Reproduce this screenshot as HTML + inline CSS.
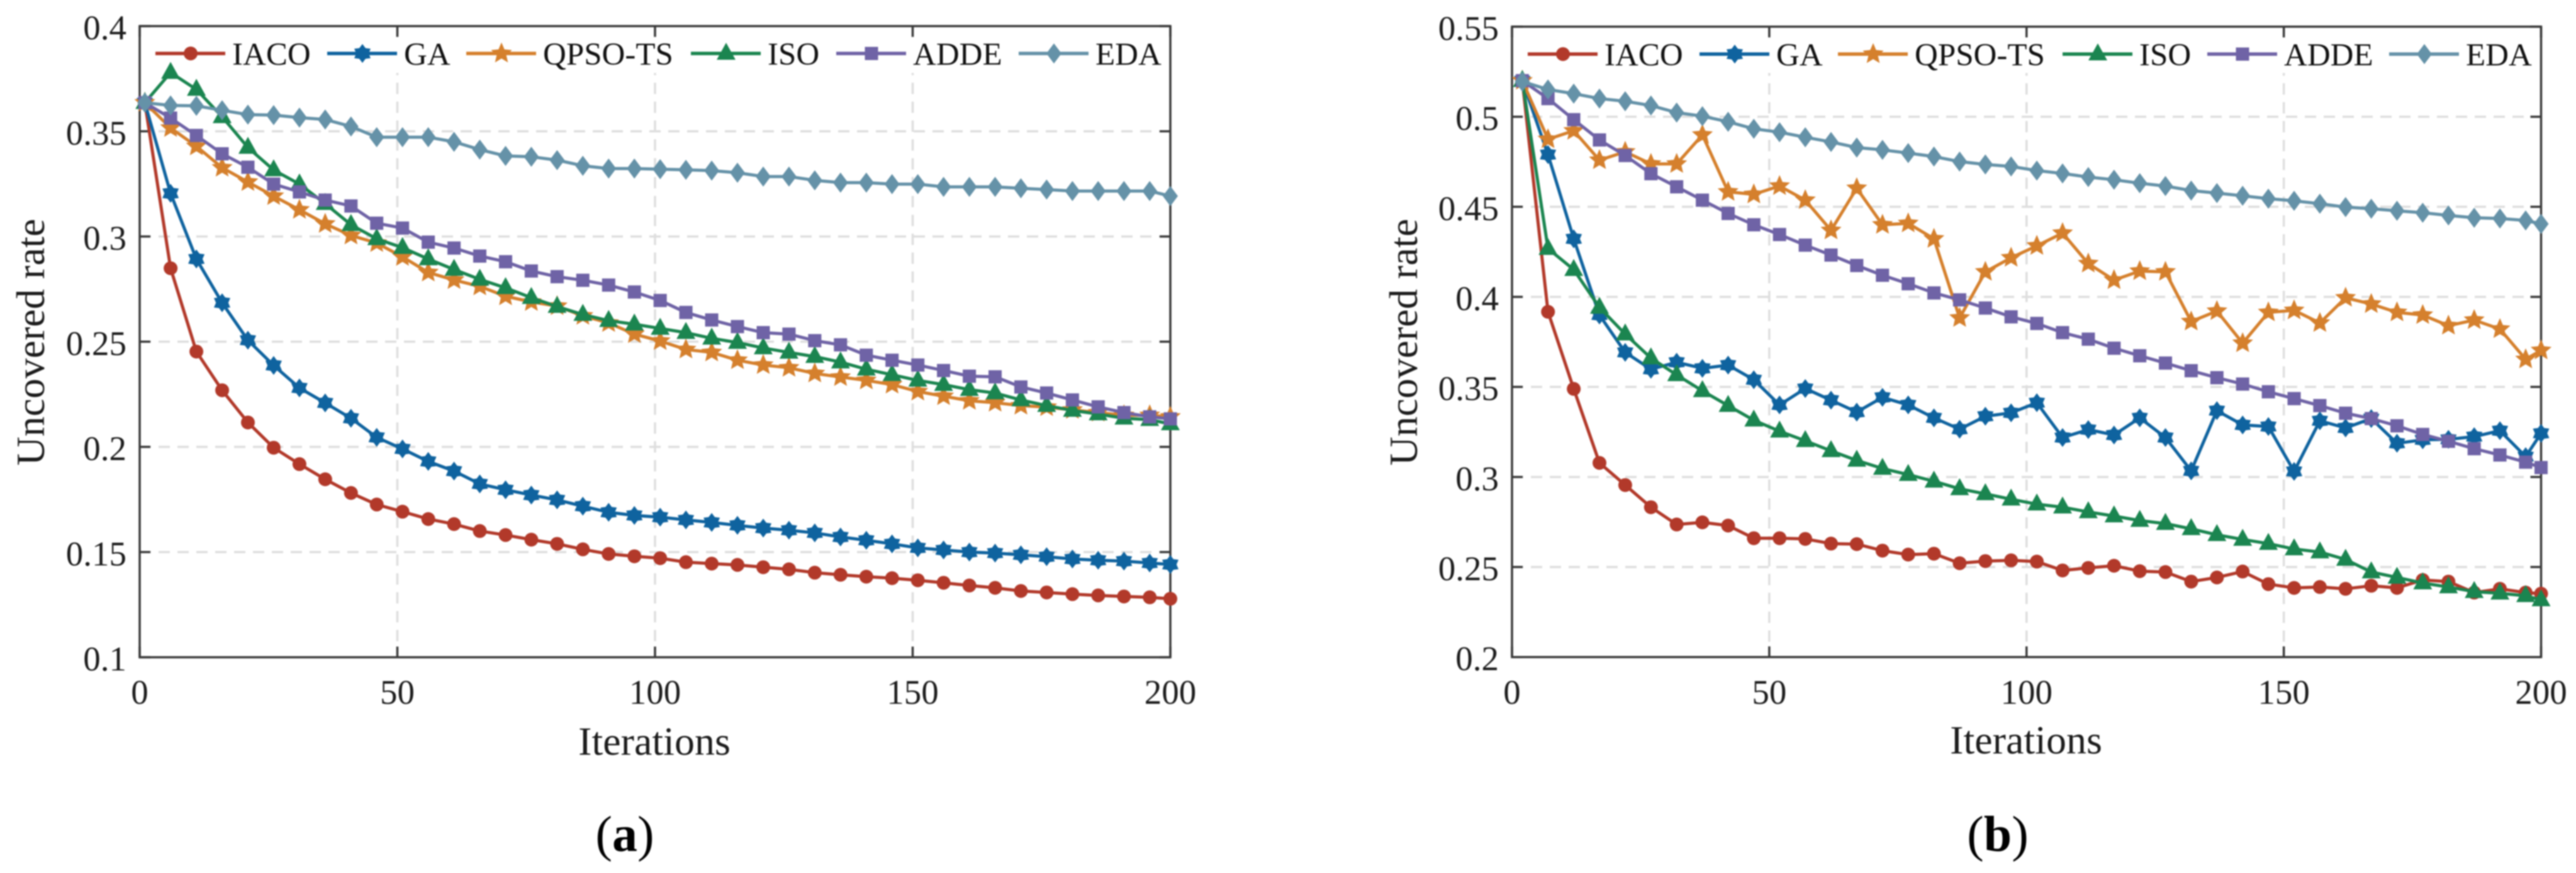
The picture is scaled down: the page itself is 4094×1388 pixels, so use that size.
<!DOCTYPE html>
<html lang="en">
<head>
<meta charset="utf-8">
<title>Uncovered rate vs iterations</title>
<style>
html,body{margin:0;padding:0;background:#fff;width:4094px;height:1388px;overflow:hidden}
svg{display:block;filter:blur(1px)}
text{font-family:"Liberation Serif",serif;fill:#1c1c1c}
.tick{font-size:55px}
.title{font-size:64px}
.leg{font-size:51px;fill:#111}
.cap{font-size:80px;fill:#000}
</style>
</head>
<body>
<svg id="figure" xmlns="http://www.w3.org/2000/svg" width="4094" height="1388" viewBox="0 0 4094 1388">
  <rect x="0" y="0" width="4094" height="1388" fill="#fff"/>

  <g id="panel-a">
    <g id="a-grid"></g>
    <rect x="236" y="60" width="1618" height="56" fill="#fff"/>
    <g id="a-frame"></g>
    <g id="a-series"></g>
    <g id="a-swatches"></g>
    <g>
      <text id="a-leg-0" class="leg" x="369" y="103">IACO</text>
      <text id="a-leg-1" class="leg" x="642" y="103">GA</text>
      <text id="a-leg-2" class="leg" x="863" y="103">QPSO-TS</text>
      <text id="a-leg-3" class="leg" x="1220" y="103">ISO</text>
      <text id="a-leg-4" class="leg" x="1451" y="103">ADDE</text>
      <text id="a-leg-5" class="leg" x="1741" y="103">EDA</text>
    </g>
    <text class="title" x="1040" y="1200" text-anchor="middle">Iterations</text>
    <text class="title" transform="translate(70,544) rotate(-90)" text-anchor="middle">Uncovered rate</text>
    <text class="cap" x="993" y="1353" text-anchor="middle">(<tspan font-weight="bold">a</tspan>)</text>
  </g>

  <g id="panel-b">
    <g id="b-grid"></g>
    <rect x="2417" y="60" width="1618" height="56" fill="#fff"/>
    <g id="b-frame"></g>
    <g id="b-series"></g>
    <g id="b-swatches"></g>
    <g>
      <text id="b-leg-0" class="leg" x="2550" y="104">IACO</text>
      <text id="b-leg-1" class="leg" x="2823" y="104">GA</text>
      <text id="b-leg-2" class="leg" x="3043" y="104">QPSO-TS</text>
      <text id="b-leg-3" class="leg" x="3400" y="104">ISO</text>
      <text id="b-leg-4" class="leg" x="3630" y="104">ADDE</text>
      <text id="b-leg-5" class="leg" x="3919" y="104">EDA</text>
    </g>
    <text class="title" x="3220" y="1198" text-anchor="middle">Iterations</text>
    <text class="title" transform="translate(2252,544) rotate(-90)" text-anchor="middle">Uncovered rate</text>
    <text class="cap" x="3175" y="1353" text-anchor="middle">(<tspan font-weight="bold">b</tspan>)</text>
  </g>
</svg>

<script>
// ---- shared tick labels ----
const xTickLabels = ["0", "50", "100", "150", "200"];
const yTickLabelsA = ["0.1", "0.15", "0.2", "0.25", "0.3", "0.35", "0.4"];
const yTickLabelsB = ["0.2", "0.25", "0.3", "0.35", "0.4", "0.45", "0.5", "0.55"];
const seriesNames = ["IACO", "GA", "QPSO-TS", "ISO", "ADDE", "EDA"];

// ---- panel (a) data ----
const iterationsA = [1,6,11,16,21,26,31,36,41,46,51,56,61,66,71,76,81,86,91,96,101,106,111,116,121,126,131,136,141,146,151,156,161,166,171,176,181,186,191,196,200];
const iacoA = [.3636,.2849,.2453,.2269,.2116,.1996,.1918,.1846,.1781,.1726,.1692,.1657,.1633,.16,.1581,.1559,.1539,.1513,.1491,.148,.1471,.1452,.1445,.1439,.1428,.1418,.1402,.1392,.1383,.1376,.1366,.1354,.1341,.133,.1315,.1308,.13,.1294,.1289,.1285,.1278];
const gaA = [.3636,.3205,.2893,.2685,.2507,.2387,.228,.2209,.2136,.2045,.199,.1931,.1885,.1824,.1796,.1771,.1748,.1718,.1689,.1674,.1666,.1653,.1641,.1627,.1614,.1604,.1591,.1572,.1556,.1539,.152,.151,.15,.1495,.1487,.1478,.1467,.1461,.1457,.1448,.1441];
const qpsoA = [.3636,.3516,.3429,.3327,.3259,.3192,.3127,.306,.3005,.2969,.2903,.2829,.2793,.2763,.2716,.2689,.2669,.2623,.2589,.2536,.2503,.2463,.2449,.2412,.2389,.2376,.2349,.2332,.2316,.2296,.2263,.2241,.2219,.221,.2196,.2189,.2176,.2163,.215,.215,.2143];
const isoA = [.3636,.3779,.3699,.3569,.3423,.3316,.3249,.3156,.3056,.2989,.2947,.2893,.2843,.2796,.2756,.2709,.2667,.2629,.26,.2583,.2563,.2543,.2516,.2496,.247,.2449,.2429,.2403,.2369,.2343,.2316,.2296,.2272,.2256,.2223,.2196,.2173,.2156,.2136,.2129,.2109];
const addeA = [.3636,.3563,.348,.3393,.3329,.3249,.3212,.3173,.3145,.3063,.304,.2973,.2945,.2907,.288,.2836,.2809,.2792,.2769,.2736,.2696,.2639,.2603,.2572,.2543,.2536,.2505,.2485,.2436,.2412,.2389,.2363,.2336,.2333,.2285,.2256,.2223,.219,.2163,.2143,.2133];
const edaA = [.3636,.3623,.3621,.36,.3579,.3577,.3565,.3556,.3523,.3472,.3472,.3472,.345,.3413,.3383,.3379,.3363,.3336,.3323,.3323,.332,.3317,.3313,.3303,.3285,.3285,.3267,.3256,.3256,.3249,.3249,.3236,.3236,.3236,.3229,.3223,.3216,.3216,.3216,.3216,.3192];

// ---- panel (b) data ----
const iterationsB = [2,7,12,17,22,27,32,37,42,47,52,57,62,67,72,77,82,87,92,97,102,107,112,117,122,127,132,137,142,147,152,157,162,167,172,177,182,187,192,197,200];
const iacoB = [.52,.3917,.3489,.3078,.2955,.2832,.2736,.2748,.273,.266,.266,.2656,.263,.2627,.2591,.2569,.2574,.2521,.2533,.2537,.253,.2481,.2495,.2507,.2477,.2472,.2419,.2442,.2475,.2405,.2384,.2389,.2379,.2396,.2384,.2428,.2419,.2358,.2379,.2358,.2352];
const gaB = [.52,.479,.4322,.3899,.3692,.3598,.3637,.3603,.3621,.354,.34,.3491,.3426,.336,.3442,.34,.3328,.3265,.3337,.3356,.3412,.3219,.3263,.3233,.3328,.3219,.3034,.3368,.3289,.328,.3031,.3312,.3272,.3324,.3187,.3206,.3209,.3224,.3257,.3113,.3242];
const qpsoB = [.52,.4875,.4922,.4759,.4805,.4738,.4738,.4899,.4583,.4569,.4615,.4537,.4369,.4603,.44,.4408,.4322,.3883,.4139,.4217,.4283,.4354,.4185,.4093,.4143,.4139,.3863,.3921,.3743,.3914,.3925,.3855,.3995,.396,.3914,.3899,.384,.3871,.3821,.3653,.3703];
const isoB = [.52,.4268,.4151,.3941,.3793,.366,.3567,.3478,.3396,.3315,.3254,.3201,.3145,.3092,.3047,.3013,.2976,.2934,.2906,.2876,.2849,.2832,.2806,.2783,.2758,.2741,.2712,.2679,.2653,.263,.26,.2583,.2542,.2472,.2442,.2411,.2389,.2363,.2354,.234,.2317];
const addeB = [.52,.5101,.4984,.4871,.4785,.4684,.4611,.4537,.4463,.44,.4346,.4287,.4232,.4174,.412,.4073,.4022,.3983,.3938,.3889,.3852,.3801,.3765,.3715,.3673,.3632,.359,.3551,.3516,.3473,.3435,.3396,.3354,.3324,.3284,.3236,.3198,.3157,.3122,.3082,.3052];
const edaB = [.5195,.5151,.5128,.5101,.5086,.5062,.5023,.5003,.4972,.4933,.4914,.4886,.486,.4829,.4816,.4798,.4779,.4751,.4735,.4724,.4701,.4685,.4665,.465,.4631,.4615,.459,.4576,.4561,.4545,.4533,.4517,.4498,.4489,.4478,.4467,.4452,.4439,.4435,.4424,.4405];

const NS = "http://www.w3.org/2000/svg";
const colors = ["#b2392a", "#0f639f", "#d5802d", "#1b8550", "#6f63a6", "#6592a8"];
const markerKinds = ["circle", "hexagram", "pentagram", "triangle", "square", "diamond"];

function mk(tag, attrs, parent) {
  const el = document.createElementNS(NS, tag);
  for (const k in attrs) el.setAttribute(k, attrs[k]);
  parent.appendChild(el);
  return el;
}

function polyPath(pts) {
  return "M" + pts.map(p => p[0].toFixed(1) + " " + p[1].toFixed(1)).join("L") + "Z";
}

function starPts(cx, cy, n, R, r) {
  const pts = [];
  for (let i = 0; i < n * 2; i++) {
    const a = -Math.PI / 2 + i * Math.PI / n;
    const q = i % 2 === 0 ? R : r;
    pts.push([cx + q * Math.cos(a), cy + q * Math.sin(a)]);
  }
  return pts;
}

function drawMarker(kind, cx, cy, color, parent) {
  let el;
  if (kind === "circle") {
    el = mk("circle", {cx: cx, cy: cy, r: 11, fill: color}, parent);
  } else {
    let d = "";
    if (kind === "hexagram") d = polyPath(starPts(cx, cy, 6, 15, 9.8));
    if (kind === "pentagram") d = polyPath(starPts(cx, cy, 5, 17.5, 8));
    if (kind === "triangle") d = polyPath([[cx, cy - 17], [cx + 15, cy + 10], [cx - 15, cy + 10]]);
    if (kind === "square") d = polyPath([[cx - 10.5, cy - 10.5], [cx + 10.5, cy - 10.5], [cx + 10.5, cy + 10.5], [cx - 10.5, cy + 10.5]]);
    if (kind === "diamond") d = polyPath([[cx, cy - 16], [cx + 12, cy], [cx, cy + 16], [cx - 12, cy]]);
    el = mk("path", {d: d, fill: color}, parent);
  }
  
  
  return el;
}

function drawPanel(cfg) {
  const sx = v => cfg.left + (v - 0) / 200 * (cfg.right - cfg.left);
  const ymin = parseFloat(cfg.yLabels[0]);
  const ymax = parseFloat(cfg.yLabels[cfg.yLabels.length - 1]);
  const sy = v => cfg.bottom - (v - ymin) / (ymax - ymin) * (cfg.bottom - cfg.top);

  const grid = document.getElementById(cfg.id + "-grid");
  const frame = document.getElementById(cfg.id + "-frame");

  // gridlines
  cfg.yLabels.slice(1, -1).forEach(lab => {
    const y = sy(parseFloat(lab));
    const g = mk("line", {x1: cfg.left, x2: cfg.right, y1: y, y2: y, stroke: "#dedede", "stroke-width": 3.5, "stroke-dasharray": "18 12"}, grid);
    
    
  });
  xTickLabels.slice(1, -1).forEach(lab => {
    const x = sx(parseFloat(lab));
    const g = mk("line", {x1: x, x2: x, y1: cfg.top, y2: cfg.bottom, stroke: "#dedede", "stroke-width": 3.5, "stroke-dasharray": "18 12"}, grid);
    
    
  });

  // frame
  const box = mk("rect", {x: cfg.left, y: cfg.top, width: cfg.right - cfg.left, height: cfg.bottom - cfg.top, fill: "none", stroke: "#3a3a3a", "stroke-width": 3.5}, frame);
  
  

  // y ticks
  cfg.yLabels.forEach(lab => {
    const y = sy(parseFloat(lab));
    [[cfg.left, cfg.left + 17], [cfg.right, cfg.right - 17]].forEach(p => {
      const t = mk("line", {x1: p[0], x2: p[1], y1: y, y2: y, stroke: "#3a3a3a", "stroke-width": 3.5}, frame);
      
      
    });
    const tx = mk("text", {"class": "tick", x: cfg.left - 21, y: y + 21, "text-anchor": "end"}, frame);
    tx.textContent = lab;
    
    
  });

  // x ticks
  xTickLabels.forEach(lab => {
    const x = sx(parseFloat(lab));
    [[cfg.bottom, cfg.bottom - 17], [cfg.top, cfg.top + 17]].forEach(p => {
      const t = mk("line", {x1: x, x2: x, y1: p[0], y2: p[1], stroke: "#3a3a3a", "stroke-width": 3.5}, frame);
      
      
    });
    const tx = mk("text", {"class": "tick", x: x, y: 1119, "text-anchor": "middle"}, frame);
    tx.textContent = lab;
    
    
  });

  // series
  const seriesRoot = document.getElementById(cfg.id + "-series");
  cfg.series.forEach((vals, i) => {
    const g = mk("g", {}, seriesRoot);
    
    
    const pts = vals.map((v, k) => sx(cfg.iterations[k]).toFixed(1) + "," + sy(v).toFixed(1)).join(" ");
    const line = mk("polyline", {points: pts, fill: "none", stroke: colors[i], "stroke-width": cfg.lw, "stroke-linejoin": "round"}, g);
    
    
    vals.forEach((v, k) => {
      drawMarker(markerKinds[i], sx(cfg.iterations[k]), sy(v), colors[i], g);
    });
  });

  // legend swatches, anchored to the legend text
  const sw = document.getElementById(cfg.id + "-swatches");
  seriesNames.forEach((name, i) => {
    const tx = parseFloat(document.getElementById(cfg.id + "-leg-" + i).getAttribute("x"));
    const y = cfg.legendY;
    const l = mk("line", {x1: tx - 122, x2: tx - 11, y1: y, y2: y, stroke: colors[i], "stroke-width": 5.5}, sw);
    
    
    drawMarker(markerKinds[i], tx - 66, y, colors[i], sw);
  });
}

drawPanel({
  id: "a", left: 222, right: 1860, top: 41.5, bottom: 1045, yLabels: yTickLabelsA, legendY: 85, lw: 5,
  iterations: iterationsA, series: [iacoA, gaA, qpsoA, isoA, addeA, edaA]
});
drawPanel({
  id: "b", left: 2403, right: 4038.5, top: 42.4, bottom: 1044.7, yLabels: yTickLabelsB, legendY: 86, lw: 5,
  iterations: iterationsB, series: [iacoB, gaB, qpsoB, isoB, addeB, edaB]
});
</script>
</body>
</html>
